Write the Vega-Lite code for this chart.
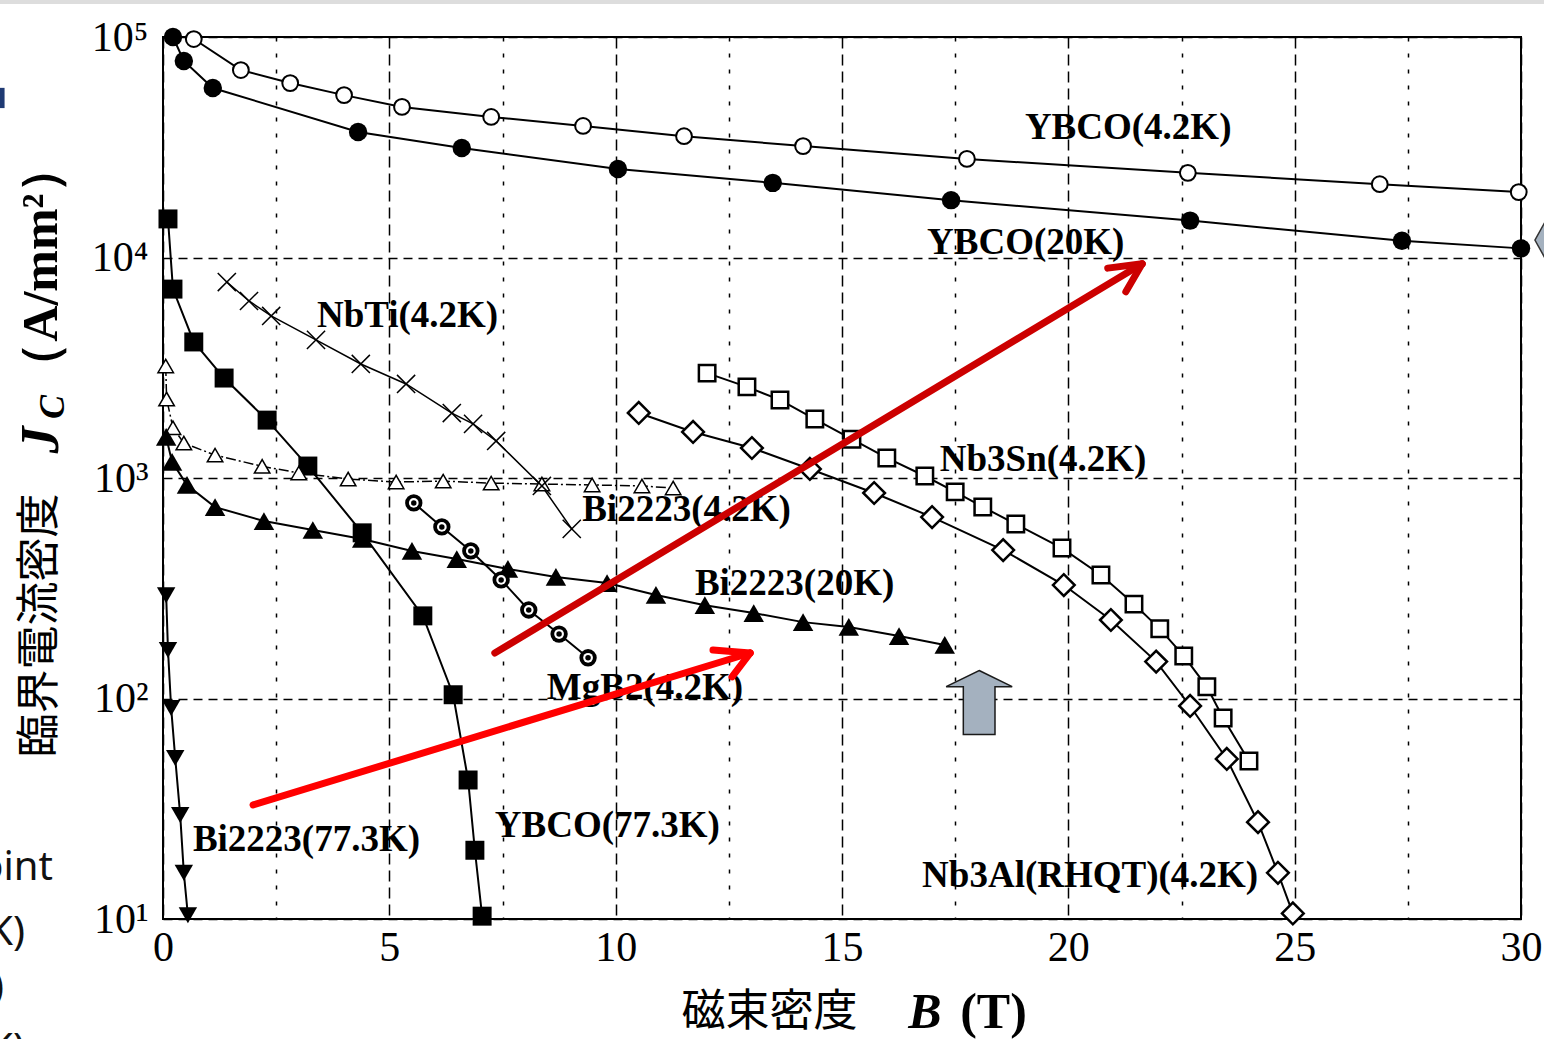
{
  "$schema": "https://vega.github.io/schema/vega-lite/v6.json",
  "width": 1358,
  "height": 882,
  "autosize": {"type": "none"},
  "padding": {"left": 163, "top": 37, "right": 23, "bottom": 120},
  "background": "white",
  "config": {
    "view": {"stroke": "black", "strokeWidth": 2},
    "axis": {"labelColor": "black", "titleColor": "black"}
  },
  "datasets": {
    "series": [
      {"s": "YBCO4", "B": 0.68, "Jc": 97900}, {"s": "YBCO4", "B": 1.72, "Jc": 70800}, {"s": "YBCO4", "B": 2.81, "Jc": 61800}, {"s": "YBCO4", "B": 4.0, "Jc": 54500}, {"s": "YBCO4", "B": 5.28, "Jc": 48200}, {"s": "YBCO4", "B": 7.25, "Jc": 43400}, {"s": "YBCO4", "B": 9.28, "Jc": 39500}, {"s": "YBCO4", "B": 11.51, "Jc": 35500}, {"s": "YBCO4", "B": 14.14, "Jc": 32000}, {"s": "YBCO4", "B": 17.76, "Jc": 28000}, {"s": "YBCO4", "B": 22.64, "Jc": 24200}, {"s": "YBCO4", "B": 26.88, "Jc": 21500}, {"s": "YBCO4", "B": 29.95, "Jc": 19800},
      {"s": "YBCO20", "B": 0.22, "Jc": 100000}, {"s": "YBCO20", "B": 0.46, "Jc": 77900}, {"s": "YBCO20", "B": 1.1, "Jc": 58700}, {"s": "YBCO20", "B": 4.31, "Jc": 37100}, {"s": "YBCO20", "B": 6.6, "Jc": 31400}, {"s": "YBCO20", "B": 10.05, "Jc": 25200}, {"s": "YBCO20", "B": 13.47, "Jc": 21800}, {"s": "YBCO20", "B": 17.41, "Jc": 18200}, {"s": "YBCO20", "B": 22.69, "Jc": 14700}, {"s": "YBCO20", "B": 27.37, "Jc": 11900}, {"s": "YBCO20", "B": 30.0, "Jc": 11000},
      {"s": "YBCO77", "B": 0.11, "Jc": 14960}, {"s": "YBCO77", "B": 0.22, "Jc": 7190}, {"s": "YBCO77", "B": 0.68, "Jc": 4140}, {"s": "YBCO77", "B": 1.35, "Jc": 2840}, {"s": "YBCO77", "B": 2.3, "Jc": 1830}, {"s": "YBCO77", "B": 3.2, "Jc": 1133}, {"s": "YBCO77", "B": 4.4, "Jc": 564}, {"s": "YBCO77", "B": 5.74, "Jc": 237}, {"s": "YBCO77", "B": 6.41, "Jc": 104}, {"s": "YBCO77", "B": 6.74, "Jc": 42.7}, {"s": "YBCO77", "B": 6.89, "Jc": 20.5}, {"s": "YBCO77", "B": 7.05, "Jc": 10.3},
      {"s": "Bi77", "B": 0.07, "Jc": 294}, {"s": "Bi77", "B": 0.11, "Jc": 166}, {"s": "Bi77", "B": 0.18, "Jc": 90.6}, {"s": "Bi77", "B": 0.27, "Jc": 53.7}, {"s": "Bi77", "B": 0.38, "Jc": 29.6}, {"s": "Bi77", "B": 0.46, "Jc": 16.2}, {"s": "Bi77", "B": 0.55, "Jc": 10.4},
      {"s": "Bi4", "B": 0.06, "Jc": 3220}, {"s": "Bi4", "B": 0.08, "Jc": 2280}, {"s": "Bi4", "B": 0.22, "Jc": 1690}, {"s": "Bi4", "B": 0.46, "Jc": 1440}, {"s": "Bi4", "B": 1.15, "Jc": 1270}, {"s": "Bi4", "B": 2.19, "Jc": 1130}, {"s": "Bi4", "B": 3.0, "Jc": 1054}, {"s": "Bi4", "B": 4.09, "Jc": 989}, {"s": "Bi4", "B": 5.15, "Jc": 959}, {"s": "Bi4", "B": 6.19, "Jc": 968}, {"s": "Bi4", "B": 7.25, "Jc": 948}, {"s": "Bi4", "B": 8.37, "Jc": 939}, {"s": "Bi4", "B": 9.48, "Jc": 930}, {"s": "Bi4", "B": 10.58, "Jc": 920}, {"s": "Bi4", "B": 11.27, "Jc": 901},
      {"s": "Bi20", "B": 0.07, "Jc": 1535}, {"s": "Bi20", "B": 0.2, "Jc": 1183}, {"s": "Bi20", "B": 0.53, "Jc": 930}, {"s": "Bi20", "B": 1.15, "Jc": 738}, {"s": "Bi20", "B": 2.23, "Jc": 638}, {"s": "Bi20", "B": 3.31, "Jc": 581}, {"s": "Bi20", "B": 4.4, "Jc": 529}, {"s": "Bi20", "B": 5.5, "Jc": 467}, {"s": "Bi20", "B": 6.49, "Jc": 429}, {"s": "Bi20", "B": 7.62, "Jc": 387}, {"s": "Bi20", "B": 8.68, "Jc": 356}, {"s": "Bi20", "B": 9.81, "Jc": 334}, {"s": "Bi20", "B": 10.89, "Jc": 295}, {"s": "Bi20", "B": 11.97, "Jc": 265}, {"s": "Bi20", "B": 13.05, "Jc": 244}, {"s": "Bi20", "B": 14.14, "Jc": 222}, {"s": "Bi20", "B": 15.15, "Jc": 211}, {"s": "Bi20", "B": 16.26, "Jc": 192}, {"s": "Bi20", "B": 17.27, "Jc": 175},
      {"s": "NbTi", "B": 1.41, "Jc": 7740}, {"s": "NbTi", "B": 1.9, "Jc": 6350}, {"s": "NbTi", "B": 2.39, "Jc": 5430}, {"s": "NbTi", "B": 3.38, "Jc": 4230}, {"s": "NbTi", "B": 4.37, "Jc": 3290}, {"s": "NbTi", "B": 5.37, "Jc": 2670}, {"s": "NbTi", "B": 6.38, "Jc": 1970}, {"s": "NbTi", "B": 6.85, "Jc": 1760}, {"s": "NbTi", "B": 7.36, "Jc": 1472}, {"s": "NbTi", "B": 8.37, "Jc": 920}, {"s": "NbTi", "B": 9.03, "Jc": 588},
      {"s": "MgB2", "B": 5.54, "Jc": 771}, {"s": "MgB2", "B": 6.16, "Jc": 600}, {"s": "MgB2", "B": 6.8, "Jc": 467}, {"s": "MgB2", "B": 7.47, "Jc": 345}, {"s": "MgB2", "B": 8.08, "Jc": 252}, {"s": "MgB2", "B": 8.75, "Jc": 196}, {"s": "MgB2", "B": 9.39, "Jc": 153},
      {"s": "Nb3Sn", "B": 12.02, "Jc": 2990}, {"s": "Nb3Sn", "B": 12.9, "Jc": 2590}, {"s": "Nb3Sn", "B": 13.63, "Jc": 2260}, {"s": "Nb3Sn", "B": 14.4, "Jc": 1850}, {"s": "Nb3Sn", "B": 15.22, "Jc": 1500}, {"s": "Nb3Sn", "B": 15.99, "Jc": 1233}, {"s": "Nb3Sn", "B": 16.83, "Jc": 1021}, {"s": "Nb3Sn", "B": 17.5, "Jc": 865}, {"s": "Nb3Sn", "B": 18.11, "Jc": 739}, {"s": "Nb3Sn", "B": 18.84, "Jc": 618}, {"s": "Nb3Sn", "B": 19.86, "Jc": 481}, {"s": "Nb3Sn", "B": 20.72, "Jc": 363}, {"s": "Nb3Sn", "B": 21.45, "Jc": 268}, {"s": "Nb3Sn", "B": 22.02, "Jc": 207}, {"s": "Nb3Sn", "B": 22.55, "Jc": 156}, {"s": "Nb3Sn", "B": 23.06, "Jc": 113}, {"s": "Nb3Sn", "B": 23.42, "Jc": 81.6}, {"s": "Nb3Sn", "B": 23.99, "Jc": 52.1},
      {"s": "Nb3Al", "B": 10.51, "Jc": 1972}, {"s": "Nb3Al", "B": 11.71, "Jc": 1617}, {"s": "Nb3Al", "B": 13.01, "Jc": 1368}, {"s": "Nb3Al", "B": 14.29, "Jc": 1099}, {"s": "Nb3Al", "B": 15.71, "Jc": 855}, {"s": "Nb3Al", "B": 16.99, "Jc": 665}, {"s": "Nb3Al", "B": 18.56, "Jc": 471}, {"s": "Nb3Al", "B": 19.9, "Jc": 327}, {"s": "Nb3Al", "B": 20.94, "Jc": 227}, {"s": "Nb3Al", "B": 21.94, "Jc": 147}, {"s": "Nb3Al", "B": 22.69, "Jc": 92.5}, {"s": "Nb3Al", "B": 23.5, "Jc": 53.2}, {"s": "Nb3Al", "B": 24.19, "Jc": 27.5}, {"s": "Nb3Al", "B": 24.63, "Jc": 16.2}, {"s": "Nb3Al", "B": 24.96, "Jc": 10.6}
    ],
    "labels": [
      {"B": 19.04, "Jc": 38700, "t": "YBCO(4.2K)"},
      {"B": 16.88, "Jc": 11640, "t": "YBCO(20K)"},
      {"B": 3.4, "Jc": 5430, "t": "NbTi(4.2K)"},
      {"B": 17.16, "Jc": 1208, "t": "Nb3Sn(4.2K)"},
      {"B": 9.26, "Jc": 716, "t": "Bi2223(4.2K)"},
      {"B": 11.75, "Jc": 330, "t": "Bi2223(20K)"},
      {"B": 8.48, "Jc": 111.7, "t": "MgB2(4.2K)"},
      {"B": 0.66, "Jc": 22.8, "t": "Bi2223(77.3K)"},
      {"B": 7.33, "Jc": 26.4, "t": "YBCO(77.3K)"},
      {"B": 16.77, "Jc": 15.7, "t": "Nb3Al(RHQT)(4.2K)"}
    ],
    "ann": [
      {"B": -2.67, "Jc": 9000, "t": "（A/mm²）", "k": "yunit"},
      {"B": -2.67, "Jc": 1486, "t": "J", "k": "yJ"},
      {"B": -2.42, "Jc": 2100, "t": "C", "k": "yC"},
      {"B": 16.83, "Jc": 3.2, "t": "B", "k": "xB"},
      {"B": 17.61, "Jc": 3.2, "t": "(T)", "k": "xT"}
    ],
    "arrows": [
      {"B": 7.33, "Jc": 160.8, "B2": 21.63, "Jc2": 9360, "c": "a"},
      {"B": 21.63, "Jc": 9360, "B2": 20.87, "Jc2": 8950, "c": "a"},
      {"B": 21.63, "Jc": 9360, "B2": 21.27, "Jc2": 6990, "c": "a"},
      {"B": 1.99, "Jc": 32.9, "B2": 12.97, "Jc2": 160.8, "c": "b"},
      {"B": 12.97, "Jc": 160.8, "B2": 12.15, "Jc2": 166, "c": "b"},
      {"B": 12.97, "Jc": 160.8, "B2": 12.57, "Jc2": 125.4, "c": "b"}
    ],
    "marker": [{"B": 18.03, "Jc": 95.9}],
    "hexa": [{"B": 30.86, "Jc": 12000}],
    "deco": [
      {"B": -3.62, "B2": -3.5, "Jc": 47600, "Jc2": 58800, "k": "navy"},
      {"B": -3.62, "B2": 30.6, "Jc": 141000, "Jc2": 150000, "k": "grey"}
    ],
    "frag": [
      {"B": -2.43, "Jc": 15.0, "t": "oint"},
      {"B": -3.05, "Jc": 7.62, "t": "K)"},
      {"B": -3.51, "Jc": 4.3, "t": ")"},
      {"B": -3.05, "Jc": 2.24, "t": "K)"}
    ]
  },
  "encoding": {
    "x": {
      "field": "B", "type": "quantitative",
      "scale": {"domain": [0, 30], "nice": false, "zero": false},
      "axis": {
        "values": [0, 2.5, 5, 7.5, 10, 12.5, 15, 17.5, 20, 22.5, 25, 27.5, 30],
        "labelExpr": "datum.value % 5 === 0 ? '' + datum.value : ''",
        "grid": true, "gridColor": "black", "gridWidth": 1.5,
        "gridDash": {"condition": {"test": "datum.value % 5 === 0", "value": [11, 6]}, "value": [4, 12]},
        "ticks": false, "tickSize": 0, "domain": false,
        "labelFont": "Liberation Serif", "labelFontSize": 42, "labelBaseline": "alphabetic", "labelPadding": 41,
        "labelFlush": false, "labelOverlap": false,
        "title": "磁束密度", "titleFont": "Noto Sans CJK JP", "titleFontSize": 44, "titleFontWeight": "normal",
        "titleX": 606, "titleY": 106, "titleBaseline": "alphabetic", "titleAlign": "center"
      }
    },
    "y": {
      "field": "Jc", "type": "quantitative",
      "scale": {"type": "log", "domain": [10, 100000], "nice": false},
      "axis": {
        "values": [10, 100, 1000, 10000, 100000],
        "labelExpr": "datum.value == 10 ? '10¹' : datum.value == 100 ? '10²' : datum.value == 1000 ? '10³' : datum.value == 10000 ? '10⁴' : '10⁵'",
        "grid": true, "gridColor": "black", "gridWidth": 1.5, "gridDash": [9, 6],
        "ticks": false, "tickSize": 0, "domain": false,
        "labelFont": "Liberation Serif", "labelFontSize": 42, "labelPadding": 15, "labelBaseline": "middle", "labelAlign": "right",
        "labelFlush": false, "labelOverlap": false,
        "title": "臨界電流密度", "titleFont": "Noto Sans CJK JP", "titleFontSize": 44, "titleFontWeight": "normal",
        "titleAngle": 270, "titleX": -123, "titleY": 588, "titleBaseline": "middle", "titleAlign": "center"
      }
    }
  },
  "layer": [
    {
      "data": {"name": "series"},
      "transform": [{"filter": "datum.s !== 'Bi4' && datum.s !== 'NbTi'"}],
      "mark": {"type": "line", "color": "black", "strokeWidth": 2},
      "encoding": {"detail": {"field": "s"}}
    },
    {
      "data": {"name": "series"},
      "transform": [{"filter": "datum.s === 'NbTi'"}],
      "mark": {"type": "line", "color": "black", "strokeWidth": 1.5},
      "encoding": {}
    },
    {
      "data": {"name": "series"},
      "transform": [{"filter": "datum.s === 'Bi4'"}],
      "mark": {"type": "line", "color": "black", "strokeWidth": 1.5, "strokeDash": [10, 3, 2, 3]},
      "encoding": {}
    },
    {
      "data": {"name": "series"},
      "mark": {"type": "point", "filled": true, "opacity": 1, "stroke": "black"},
      "encoding": {
        "shape": {"field": "s", "type": "nominal", "legend": null, "scale": {"domain": ["YBCO4", "YBCO20", "YBCO77", "Bi77", "Bi4", "Bi20", "NbTi", "MgB2", "Nb3Sn", "Nb3Al"], "range": ["circle", "circle", "square", "triangle-down", "triangle-up", "triangle-up", "M-1,-1L1,1M-1,1L1,-1", "circle", "square", "diamond"]}},
        "fill": {"field": "s", "type": "nominal", "legend": null, "scale": {"domain": ["YBCO4", "YBCO20", "YBCO77", "Bi77", "Bi4", "Bi20", "NbTi", "MgB2", "Nb3Sn", "Nb3Al"], "range": ["white", "black", "black", "black", "white", "black", "transparent", "black", "white", "white"]}},
        "size": {"field": "s", "type": "nominal", "legend": null, "scale": {"type": "ordinal", "domain": ["YBCO4", "YBCO20", "YBCO77", "Bi77", "Bi4", "Bi20", "NbTi", "MgB2", "Nb3Sn", "Nb3Al"], "range": [250, 340, 360, 340, 240, 420, 330, 300, 270, 470]}},
        "strokeWidth": {"field": "s", "type": "nominal", "legend": null, "scale": {"type": "ordinal", "domain": ["YBCO4", "YBCO20", "YBCO77", "Bi77", "Bi4", "Bi20", "NbTi", "MgB2", "Nb3Sn", "Nb3Al"], "range": [2, 0, 0, 0, 1.5, 0, 1.5, 0, 2.5, 2.5]}}
      }
    },
    {
      "data": {"name": "series"},
      "transform": [{"filter": "datum.s === 'MgB2'"}],
      "mark": {"type": "point", "shape": "circle", "filled": true, "opacity": 1, "color": "white", "size": 95},
      "encoding": {}
    },
    {
      "data": {"name": "series"},
      "transform": [{"filter": "datum.s === 'MgB2'"}],
      "mark": {"type": "point", "shape": "circle", "filled": true, "opacity": 1, "color": "black", "size": 30},
      "encoding": {}
    },
    {
      "data": {"name": "labels"},
      "mark": {"type": "text", "font": "Liberation Serif", "fontWeight": "bold", "fontSize": 37, "align": "left", "baseline": "middle", "color": "black"},
      "encoding": {"text": {"field": "t"}}
    },
    {
      "data": {"name": "ann"},
      "transform": [{"filter": "datum.k === 'yunit'"}],
      "mark": {"type": "text", "font": "Liberation Serif", "fontWeight": "bold", "fontSize": 50, "angle": 270, "align": "center", "baseline": "middle", "color": "black"},
      "encoding": {"text": {"field": "t"}}
    },
    {
      "data": {"name": "ann"},
      "transform": [{"filter": "datum.k === 'yJ'"}],
      "mark": {"type": "text", "font": "Liberation Serif", "fontWeight": "bold", "fontStyle": "italic", "fontSize": 54, "angle": 270, "align": "center", "baseline": "middle", "color": "black"},
      "encoding": {"text": {"field": "t"}}
    },
    {
      "data": {"name": "ann"},
      "transform": [{"filter": "datum.k === 'yC'"}],
      "mark": {"type": "text", "font": "Liberation Serif", "fontWeight": "bold", "fontStyle": "italic", "fontSize": 36, "angle": 270, "align": "center", "baseline": "middle", "color": "black"},
      "encoding": {"text": {"field": "t"}}
    },
    {
      "data": {"name": "ann"},
      "transform": [{"filter": "datum.k === 'xB'"}],
      "mark": {"type": "text", "font": "Liberation Serif", "fontWeight": "bold", "fontStyle": "italic", "fontSize": 50, "align": "center", "baseline": "alphabetic", "color": "black"},
      "encoding": {"text": {"field": "t"}}
    },
    {
      "data": {"name": "ann"},
      "transform": [{"filter": "datum.k === 'xT'"}],
      "mark": {"type": "text", "font": "Liberation Serif", "fontWeight": "bold", "fontSize": 50, "align": "left", "baseline": "alphabetic", "color": "black"},
      "encoding": {"text": {"field": "t"}}
    },
    {
      "data": {"name": "arrows"},
      "mark": {"type": "rule", "strokeWidth": 7, "strokeCap": "round"},
      "encoding": {
        "x2": {"field": "B2"},
        "y2": {"field": "Jc2"},
        "color": {"field": "c", "type": "nominal", "legend": null, "scale": {"domain": ["a", "b"], "range": ["#CC0000", "#FF0000"]}}
      }
    },
    {
      "data": {"name": "marker"},
      "mark": {"type": "point", "shape": "M0,-0.97L1,-0.48L0.48,-0.48L0.48,0.97L-0.48,0.97L-0.48,-0.48L-1,-0.48Z", "size": 4356, "filled": true, "opacity": 1, "fill": "#A4B1BF", "stroke": "#1a1a1a", "strokeWidth": 1.5},
      "encoding": {}
    },
    {
      "data": {"name": "hexa"},
      "mark": {"type": "point", "shape": "M-1,0L-0.5,-0.9L0.5,-0.9L1,0L0.5,0.9L-0.5,0.9Z", "size": 2500, "filled": true, "opacity": 1, "fill": "#A4B1BF", "stroke": "#333333", "strokeWidth": 1.5, "clip": false},
      "encoding": {}
    },
    {
      "data": {"name": "deco"},
      "transform": [{"filter": "datum.k === 'navy'"}],
      "mark": {"type": "rect", "color": "#1F3A73"},
      "encoding": {"x2": {"field": "B2"}, "y2": {"field": "Jc2"}}
    },
    {
      "data": {"name": "deco"},
      "transform": [{"filter": "datum.k === 'grey'"}],
      "mark": {"type": "rect", "color": "#DDDDDD"},
      "encoding": {"x2": {"field": "B2"}, "y2": {"field": "Jc2"}}
    },
    {
      "data": {"name": "frag"},
      "mark": {"type": "text", "font": "Noto Sans", "fontSize": 40, "align": "right", "baseline": "alphabetic", "color": "#111111"},
      "encoding": {"text": {"field": "t"}}
    }
  ]
}
